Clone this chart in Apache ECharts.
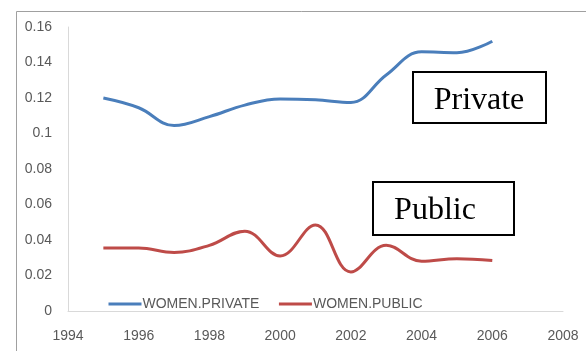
<!DOCTYPE html>
<html>
<head>
<meta charset="utf-8">
<script src="https://cdn.jsdelivr.net/npm/echarts@6/dist/echarts.min.js"></script>
<style>
  html, body { margin: 0; padding: 0; background: #ffffff; }
  #chart { width: 586px; height: 351px; }
</style>
</head>
<body>
<div id="chart"></div>
<script>
// Share of women employed, by sector
const years = [1995, 1996, 1997, 1998, 1999, 2000, 2001, 2002, 2003, 2004, 2005, 2006];
const womenPrivate = [0.12, 0.1145, 0.1045, 0.1095, 0.116, 0.1195, 0.119, 0.1175, 0.133, 0.146, 0.1455, 0.152];
const womenPublic = [0.0355, 0.0355, 0.033, 0.037, 0.045, 0.031, 0.0485, 0.022, 0.037, 0.028, 0.0295, 0.0285];
const seriesNames = ['WOMEN.PRIVATE', 'WOMEN.PUBLIC'];
const boxLabels = ['Private', 'Public'];

const pairs = vals => years.map((y, i) => [y, vals[i]]);

const labelFont = { color: '#595959', fontSize: 14, fontFamily: 'Liberation Sans, Arial, sans-serif' };

const chart = echarts.init(document.getElementById('chart'), null, { renderer: 'canvas' });
chart.setOption({
  animation: false,
  backgroundColor: '#ffffff',
  grid: { left: 68, top: 27, right: 23, bottom: 40, containLabel: false },
  xAxis: {
    type: 'value',
    min: 1994, max: 2008, interval: 2,
    axisLine: { show: true, lineStyle: { color: '#d9d9d9', width: 1 } },
    axisTick: { show: false },
    splitLine: { show: false },
    axisLabel: Object.assign({ margin: 18, formatter: v => String(v) }, labelFont)
  },
  yAxis: {
    type: 'value',
    min: 0, max: 0.16, interval: 0.02,
    axisLine: { show: true, lineStyle: { color: '#d9d9d9', width: 1 } },
    axisTick: { show: false },
    splitLine: { show: false },
    axisLabel: Object.assign({ margin: 16, formatter: v => String(+v.toFixed(2)) }, labelFont)
  },
  legend: {
    left: 102, top: 292,
    itemWidth: 33, itemHeight: 14, itemGap: 18,
    itemStyle: { opacity: 0 },
    lineStyle: { width: 3 },
    textStyle: Object.assign({ padding: [0, 0, 0, -4] }, labelFont),
    data: seriesNames
  },
  series: [
    {
      name: seriesNames[0], type: 'line', smooth: 0.4, symbol: 'none',
      color: '#4a7ebb', lineStyle: { width: 3, color: '#4a7ebb' },
      data: pairs(womenPrivate)
    },
    {
      name: seriesNames[1], type: 'line', smooth: 0.4, symbol: 'none',
      color: '#be4b48', lineStyle: { width: 3, color: '#be4b48' },
      data: pairs(womenPublic)
    }
  ],
  graphic: [
    { type: 'rect', left: 14, top: 9, shape: { width: 600, height: 400 },
      style: { fill: null, stroke: '#a0a0a0', lineWidth: 1 }, silent: true },
    { type: 'rect', shape: { x: 413, y: 72, width: 133, height: 51 },
      style: { fill: '#ffffff', stroke: '#000000', lineWidth: 2 }, z: 10 },
    { type: 'text', x: 479, y: 101, z: 11,
      style: { text: boxLabels[0], fill: '#000000', font: '32px "Liberation Serif", "Times New Roman", serif',
               textAlign: 'center', textVerticalAlign: 'middle' } },
    { type: 'rect', shape: { x: 373, y: 182, width: 141, height: 53 },
      style: { fill: '#ffffff', stroke: '#000000', lineWidth: 2 }, z: 10 },
    { type: 'text', x: 435, y: 211, z: 11,
      style: { text: boxLabels[1], fill: '#000000', font: '32px "Liberation Serif", "Times New Roman", serif',
               textAlign: 'center', textVerticalAlign: 'middle' } }
  ]
});
</script>
</body>
</html>
